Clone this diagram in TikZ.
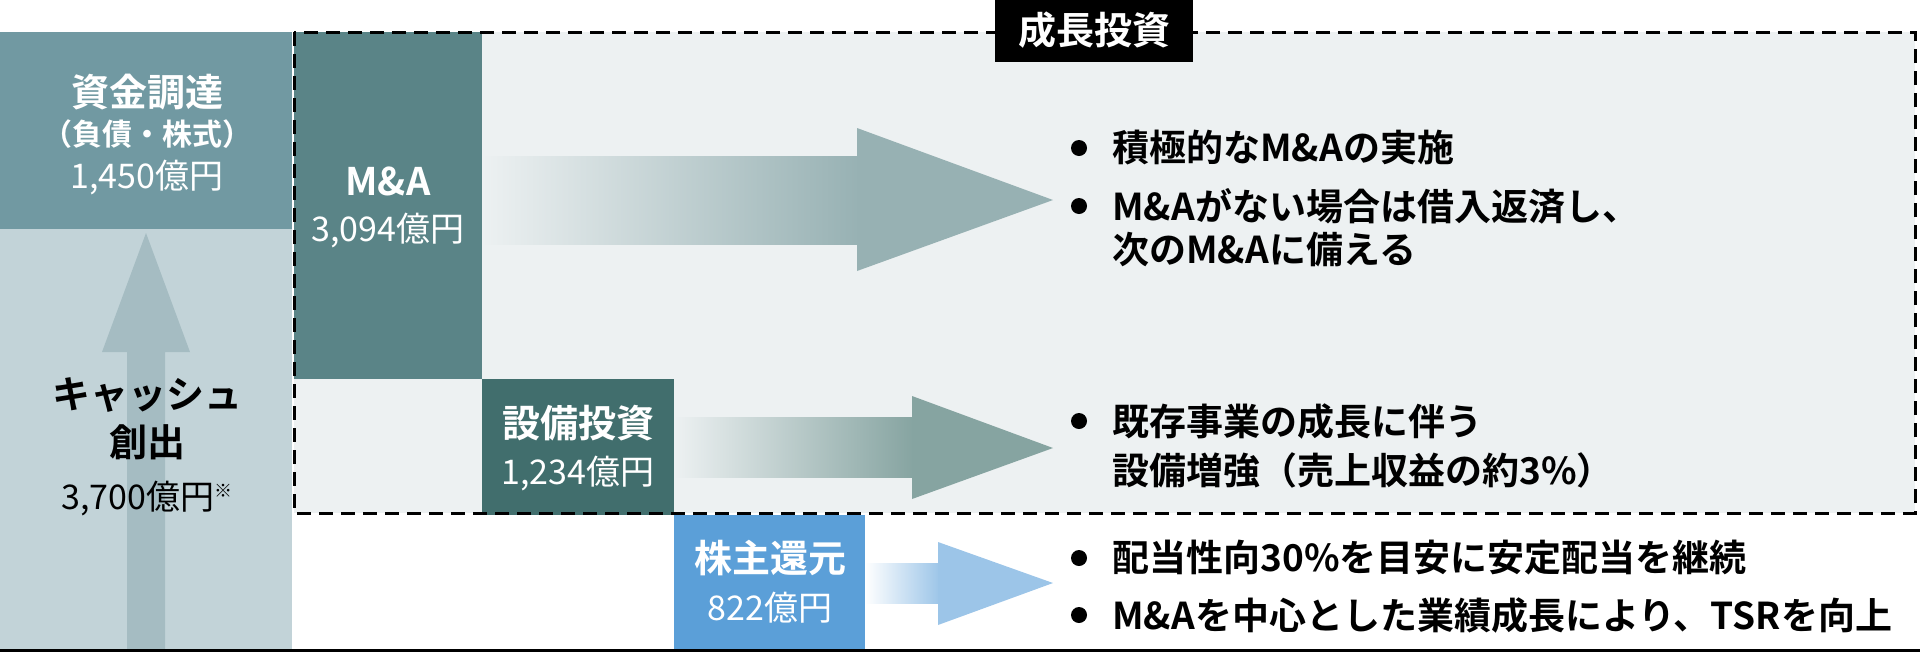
\documentclass[tikz,border=0pt]{standalone}
\usepackage{fontspec}
\setmainfont{Noto Sans CJK JP}[BoldFont={Noto Sans CJK JP Bold}]
\definecolor{fund}{HTML}{7199A2}
\definecolor{cash}{HTML}{C2D3D8}
\definecolor{cashup}{HTML}{A5BCC2}
\definecolor{growbg}{HTML}{EDF1F2}
\definecolor{ma}{HTML}{5A8487}
\definecolor{capex}{HTML}{416E6D}
\definecolor{ret}{HTML}{5B9FD8}
\definecolor{maarrow}{HTML}{97B1B3}
\definecolor{capexarrow}{HTML}{86A4A1}
\definecolor{retarrow}{HTML}{9CC5E8}

\begin{document}
\begin{tikzpicture}[x=0.5pt, y=-0.5pt]
  \tikzstyle{big} = [font=\bfseries\fontsize{19}{22}\selectfont, inner sep=0pt]
  \tikzstyle{small} = [font=\bfseries\fontsize{15}{18}\selectfont, inner sep=0pt]
  \tikzstyle{amount} = [font=\fontsize{17}{20}\selectfont, inner sep=0pt]
  \tikzstyle{point} = [font=\bfseries\fontsize{18.5}{22}\selectfont, inner sep=0pt, anchor=west]
  \tikzstyle{dot} = [circle, fill=black, minimum size=8pt, inner sep=0pt]

  \useasboundingbox (0,0) rectangle (1920,654);

  % left column
  \fill[fund] (0,32) rectangle (292,229);
  \fill[cash] (0,229) rectangle (292,650);
  \fill[cashup] (127,650) -- (127,352) -- (102,352) -- (146,233) -- (190,352) -- (165,352) -- (165,650) -- cycle;

  % growth area
  \fill[growbg] (294,32) rectangle (1915,513);
  \fill[ma] (294,32) rectangle (482,379);
  \fill[capex] (482,379) rectangle (674,515);
  \fill[ret] (674,515) rectangle (865,650);

  % arrows
  \shade[left color=growbg, right color=maarrow] (482,156) rectangle (860,244);
  \fill[maarrow] (857,156) -- (857,128) -- (1053,200) -- (857,271) -- (857,244) -- cycle;
  \shade[left color=growbg, right color=capexarrow] (674,417) rectangle (914,477);
  \fill[capexarrow] (912,417) -- (912,396) -- (1053,448) -- (912,499) -- (912,477) -- cycle;
  \shade[left color=white, right color=retarrow] (865,563) rectangle (940,603);
  \fill[retarrow] (938,563) -- (938,542) -- (1053,583) -- (938,625) -- (938,603) -- cycle;

  \draw[line width=1.5pt, dash pattern=on 7pt off 4pt] (294,32) rectangle (1915,513);
  \draw[line width=1.5pt] (0,650) -- (1920,650);

  \fill[black] (995,0) rectangle (1193,62);
  \node[big, text=white] (growth) at (1094,30) {成長投資};

  % left texts
  \node[big, text=white] (fundtitle) at (147,92) {資金調達};
  \node[small, text=white] (fundnote) at (147,134) {（負債・株式）};
  \node[amount, text=white] (fundval) at (147,177) {1,450億円};
  \node[big] (cashtitle) at (147,395) {キャッシュ};
  \node[big] (cashtitle2) at (147,442) {創出};
  \node[amount] (cashval) at (147,498) {3,700億円\raisebox{0.6ex}{\fontsize{9}{10}\selectfont ※}};

  \node[big, text=white] (matitle) at (388,181) {M\&A};
  \node[amount, text=white] (maval) at (388,230) {3,094億円};
  \node[big, text=white] (capextitle) at (578,423) {設備投資};
  \node[amount, text=white] (capexval) at (578,473) {1,234億円};
  \node[big, text=white] (rettitle) at (770,558) {株主還元};
  \node[amount, text=white] (retval) at (770,608) {822億円};

  % bullet points
  \node[dot] (d1) at (1079,148) {};
  \node[point] (p1) at (1112,148) {積極的なM\&Aの実施};
  \node[dot] (d2) at (1079,206) {};
  \node[point] (p2) at (1112,206) {M\&Aがない場合は借入返済し、};
  \node[point] (p2b) at (1112,250) {次のM\&Aに備える};
  \node[dot] (d3) at (1079,421) {};
  \node[point] (p3) at (1112,421) {既存事業の成長に伴う};
  \node[point] (p3b) at (1112,470) {設備増強（売上収益の約3\%）};
  \node[dot] (d4) at (1079,558) {};
  \node[point] (p4) at (1112,558) {配当性向30\%を目安に安定配当を継続};
  \node[dot] (d5) at (1079,615) {};
  \node[point] (p5) at (1112,615) {M\&Aを中心とした業績成長により、TSRを向上};
\end{tikzpicture}
\end{document}
